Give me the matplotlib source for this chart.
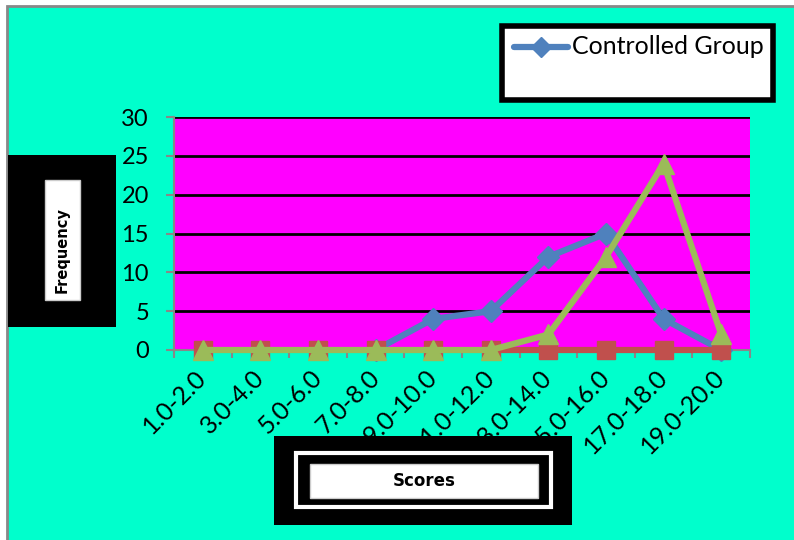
import numpy as np
import matplotlib.pyplot as plt
from matplotlib.patches import Rectangle
from matplotlib.lines import Line2D

categories = ["1.0-2.0", "3.0-4.0", "5.0-6.0", "7.0-8.0", "9.0-10.0",
              "11.0-12.0", "13.0-14.0", "15.0-16.0", "17.0-18.0", "19.0-20.0"]
controlled = [0, 0, 0, 0, 4, 5, 12, 15, 4, 0]
second = [0, 0, 0, 0, 0, 0, 0, 0, 0, 0]
experimental = [0, 0, 0, 0, 0, 0, 2, 12, 24, 2]
y_ticks = [0, 5, 10, 15, 20, 25, 30]

W, H = 794, 540
bg = "#00FFCC"
blue, red, green = "#4F81BD", "#C0504D", "#9BBB59"
plt.rcParams["font.family"] = ["Lato", "DejaVu Sans"]

fig = plt.figure(figsize=(W / 100, H / 100), dpi=100)
fig.patch.set_facecolor("white")

def box(x0, y0, x1, y1, **kw):
    # pixel coords measured from top-left
    r = Rectangle((x0 / W, 1 - y1 / H), (x1 - x0) / W, (y1 - y0) / H,
                  transform=fig.transFigure, **kw)
    fig.patches.append(r)
    return r

# chart area background with gray top/left edge
box(7, 6, W + 5, H + 5, facecolor=bg, edgecolor="#888888", linewidth=2,
    zorder=-10)

ax = fig.add_axes([174 / W, 1 - 350 / H, (750 - 174) / W, (350 - 117) / H])
ax.set_facecolor("#FF00FF")
x = np.arange(len(categories))

ax.plot(x[3:], controlled[3:], color=blue, lw=4.5, marker="D", ms=11,
        clip_on=False, zorder=3)
ax.plot(x[5:], second[5:], color=red, lw=4.5, zorder=4, clip_on=False)
ax.plot(x, second, color=red, lw=0, marker="s", ms=13, clip_on=False, zorder=4)
ax.plot(x, experimental, color=green, lw=4.5, marker="^", ms=15,
        clip_on=False, zorder=5)

ax.set_xlim(-0.5, len(categories) - 0.5)
ax.set_ylim(0, 30)
ax.set_yticks(y_ticks)
ax.set_yticklabels([str(v) for v in y_ticks], fontsize=17)
ax.set_xticks(x)
ax.set_xticklabels(categories, rotation=45, ha="right", va="center",
                   rotation_mode="anchor", fontsize=18)
ax.tick_params(axis="x", length=0, pad=17)
ax.set_xticks(np.arange(-0.5, len(categories)), minor=True)
ax.tick_params(axis="x", which="minor", length=6, color="#888888", width=1.5)
ax.tick_params(axis="y", length=6, color="#888888", width=1.5, pad=12)
for v in y_ticks[1:]:
    ax.axhline(v, color="black", lw=2, zorder=1)
for s in ["top", "right"]:
    ax.spines[s].set_visible(False)
for s in ["left", "bottom"]:
    ax.spines[s].set_color("#888888")
    ax.spines[s].set_linewidth(1.5)

# y-axis title box
box(8, 155, 116, 327, facecolor="black", edgecolor="none")
box(45, 180, 80, 300, facecolor="white", edgecolor="#cccccc", lw=1)
fig.text(62.5 / W, 1 - 250 / H, "Frequency", rotation=90, ha="center",
         va="center", fontsize=10.5, fontweight="bold",
         family=["DejaVu Sans"])

# x-axis title box
box(274, 436, 572, 525, facecolor="black", edgecolor="none")
box(296, 453, 551, 507, facecolor="black", edgecolor="white", lw=3)
box(310, 464, 538, 498, facecolor="white", edgecolor="#cccccc", lw=1)
fig.text(424 / W, 1 - 481 / H, "Scores", ha="center", va="center",
         fontsize=12, fontweight="bold", family=["DejaVu Sans"])

# legend box
box(502, 26, 773, 100, facecolor="white", edgecolor="black", lw=4)
leg_x = np.array([514, 568]) / W
fig.lines.append(Line2D(leg_x, [1 - 47 / H] * 2, transform=fig.transFigure,
                        color=blue, lw=4.5, solid_capstyle="round"))
fig.lines.append(Line2D([leg_x.mean()], [1 - 47 / H], transform=fig.transFigure,
                        color=blue, marker="D", ms=10, lw=0))
fig.text(572 / W, 1 - 47 / H, "Controlled Group", ha="left", va="center",
         fontsize=18)

fig.savefig("out.png", dpi=100, facecolor=fig.get_facecolor())
